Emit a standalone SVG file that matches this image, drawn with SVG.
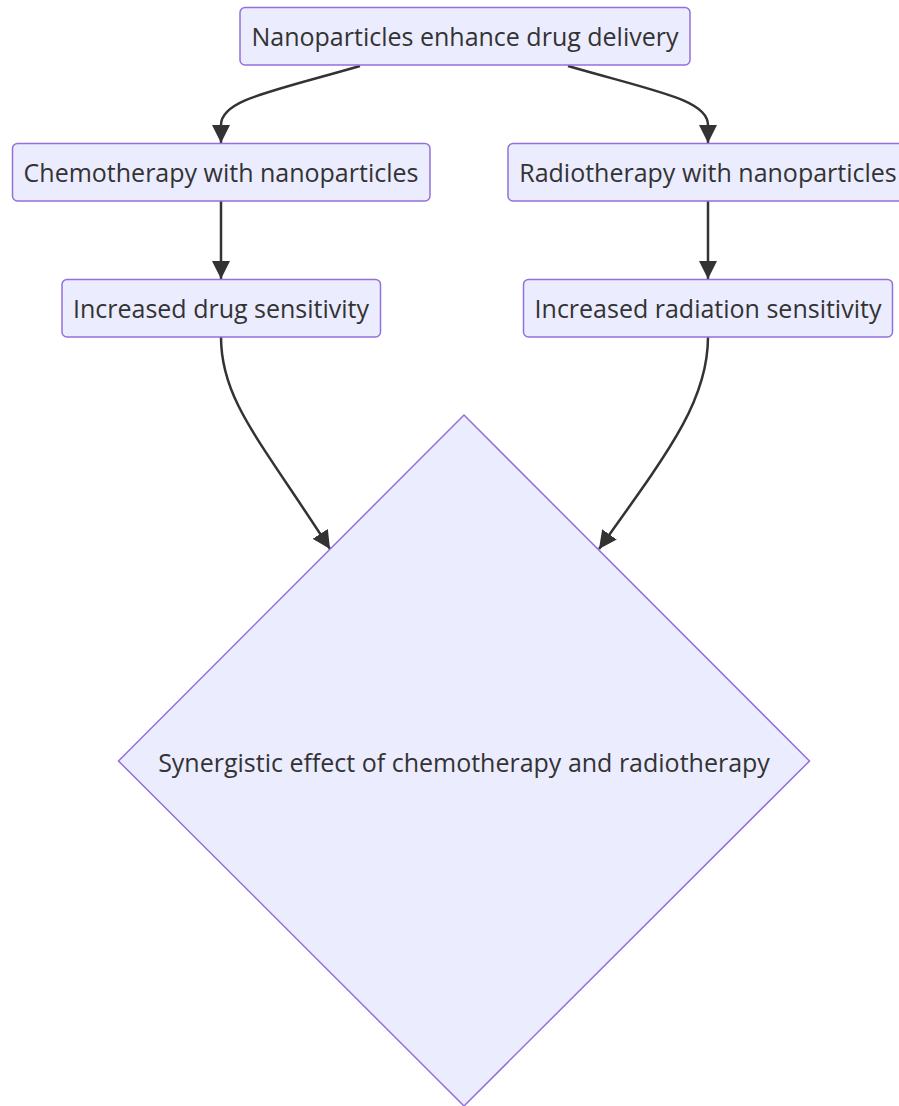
<svg xmlns="http://www.w3.org/2000/svg" width="899" height="1106" viewBox="0 0 899 1106">
<style>
.node rect,.node polygon{fill:#ECECFF;stroke:#9370DB;stroke-width:1.5}
.node text{font-family:"Open Sans","Noto Sans",sans-serif;font-size:25px;fill:#333;text-anchor:middle;dominant-baseline:central}
.edge{fill:none;stroke:#333;stroke-width:2.5}
</style>
<defs>
<marker id="arr" viewBox="0 0 10 10" refX="10" refY="5" markerUnits="userSpaceOnUse" markerWidth="18" markerHeight="18" orient="auto">
<path d="M0,0 L10,5 L0,10 z" fill="#333"/>
</marker>
</defs>
<rect width="899" height="1106" fill="#fff"/>
<g id="edges">
<path class="edge" d="M360,66 C270,92 221,100 221,125 L221,143" marker-end="url(#arr)"/>
<path class="edge" d="M568,66 C658,92 708,100 708,125 L708,143" marker-end="url(#arr)"/>
<path class="edge" d="M221,201 L221,279" marker-end="url(#arr)"/>
<path class="edge" d="M708,201 L708,279" marker-end="url(#arr)"/>
<path class="edge" d="M221,337 C221,400 260,440 330,549" marker-end="url(#arr)"/>
<path class="edge" d="M708,337 C708,400 670,450 599,549" marker-end="url(#arr)"/>
</g>
<g id="n1" class="node"><rect x="240" y="7.5" width="450" height="57.5" rx="5"/><text x="465" y="36">Nanoparticles enhance drug delivery</text></g>
<g id="n2" class="node"><rect x="12.5" y="143.5" width="417.5" height="57.5" rx="5"/><text x="221" y="172">Chemotherapy with nanoparticles</text></g>
<g id="n3" class="node"><rect x="508" y="143.5" width="400" height="57.5" rx="5"/><text x="708" y="172">Radiotherapy with nanoparticles</text></g>
<g id="n4" class="node"><rect x="62" y="279.5" width="318.5" height="57.5" rx="5"/><text x="221" y="308">Increased drug sensitivity</text></g>
<g id="n5" class="node"><rect x="523.5" y="279.5" width="369" height="57.5" rx="5"/><text x="708" y="308">Increased radiation sensitivity</text></g>
<g id="n6" class="node"><polygon points="464,415 809.5,761 464,1106 118.5,761"/><text x="464" y="762">Synergistic effect of chemotherapy and radiotherapy</text></g>
</svg>
